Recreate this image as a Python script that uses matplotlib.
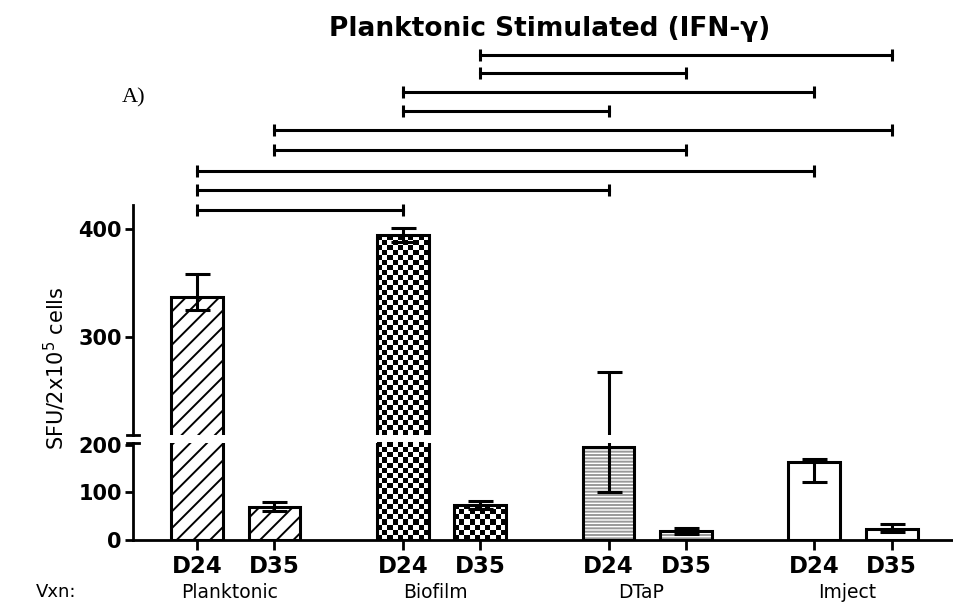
import numpy as np
import matplotlib
matplotlib.use("Agg")
from matplotlib import pyplot as plt
from matplotlib import transforms

# SFU per 2x10^5 cells, planktonic-stimulated IFN-gamma ELISpot
groups = ["Planktonic", "Biofilm", "DTaP", "Imject"]
days = ["D24", "D35"]
means = [337, 69, 394, 74, 196, 19, 164, 23]
err_top = [358, 80, 401, 82, 268, 25, 170, 34]
err_bottom = [325, 61, 388, 66, 101, 12, 122, 16]

# significance brackets: (bar a, bar b)
brackets = [(0, 2), (0, 4), (0, 6), (1, 5), (1, 7), (2, 4), (2, 6), (3, 5), (3, 7)]
bracket_y = [418, 436, 454, 473, 492, 509, 527, 544, 561]

plt.rcParams["hatch.linewidth"] = 1.4
plt.rcParams["font.family"] = "DejaVu Sans"

fig = plt.figure(figsize=(9.54, 6.04), dpi=100)
ax_lo = fig.add_axes([0.1394, 0.10596, 0.8606, 0.16126])
ax_hi = fig.add_axes([0.1394, 0.2793, 0.8606, 0.381])

pos = [g * 2.655 + d for g in range(len(groups)) for d in range(len(days))]
width = 0.67
xlim = (-0.826, 9.768)
lo_lim = (0, 205)
hi_lim = (209, 422)


def checker_fill(ax, bar, ylim, cell=5.0):
    # checkerboard fill, only over the part of the bar inside ylim
    x0 = bar.get_x()
    w = bar.get_width()
    y0 = max(bar.get_y(), ylim[0])
    y1 = min(bar.get_y() + bar.get_height(), ylim[1])
    if y1 <= y0:
        return
    p0 = ax.transData.transform((x0, y0))
    p1 = ax.transData.transform((x0 + w, y1))
    ncol = max(1, int(round((p1[0] - p0[0]) / cell)))
    nrow = max(1, int(round((p1[1] - p0[1]) / cell)))
    ii, jj = np.indices((nrow, ncol))
    board = (ii + jj) % 2
    im = ax.imshow(board, extent=(x0, x0 + w, y0, y1), cmap="gray",
                   interpolation="nearest", aspect="auto", zorder=2)
    im.set_clip_path(bar)


for ax, ylim in ((ax_lo, lo_lim), (ax_hi, hi_lim)):
    ax.set_xlim(*xlim)
    ax.set_ylim(*ylim)
    for i, (x, m) in enumerate(zip(pos, means)):
        g = i // 2
        if g == 0:
            ax.bar(x, m, width, color="white", edgecolor="black", hatch="//",
                   linewidth=0, zorder=1)
        elif g == 1:
            b = ax.bar(x, m, width, color="white", linewidth=0, zorder=1)[0]
            checker_fill(ax, b, ylim)
        elif g == 2:
            ax.bar(x, m, width, color="white", edgecolor="0.6", hatch="-----",
                   linewidth=0, zorder=1)
        else:
            ax.bar(x, m, width, color="white", linewidth=0, zorder=1)
        ax.bar(x, m, width, fill=False, edgecolor="black", linewidth=2.2, zorder=3)
    lower = [m - e for m, e in zip(means, err_bottom)]
    upper = [e - m for m, e in zip(means, err_top)]
    ax.errorbar(pos, means, yerr=[lower, upper], fmt="none", ecolor="black",
                elinewidth=2.2, capsize=9, capthick=2.2, zorder=4)
    ax.set_xlim(*xlim)
    ax.set_ylim(*ylim)
    ax.spines["right"].set_visible(False)
    ax.spines["top"].set_visible(False)
    ax.spines["left"].set_linewidth(2)
    ax.spines["bottom"].set_linewidth(2)
    ax.tick_params(axis="y", width=2, length=6, labelsize=15, pad=2)

ax_lo.set_yticks([0, 100, 200])
ax_lo.set_yticklabels(["0", "100", "200"], fontweight="bold")
ax_hi.set_yticks([300, 400])
ax_hi.set_yticklabels(["300", "400"], fontweight="bold")

ax_hi.spines["bottom"].set_visible(False)
ax_hi.set_xticks([])

ax_lo.set_xticks(pos)
ax_lo.set_xticklabels(days * len(groups), fontsize=16.5, fontweight="bold")
ax_lo.tick_params(axis="x", width=2, length=7, pad=4)

# break marks on the y axis
for ax, yy in ((ax_hi, 0.0), (ax_lo, 1.0)):
    ax.plot([-0.007, 0.007], [yy, yy], transform=ax.transAxes, color="black",
            linewidth=2, clip_on=False, zorder=5)

# significance brackets above the bars
for (a, b), y in zip(brackets, bracket_y):
    ax_hi.plot([pos[a], pos[b]], [y, y], color="black", linewidth=2.2,
               marker="|", markersize=9, markeredgewidth=2.2, clip_on=False)

fig.text(550 / 954, 1 - 29 / 604, "Planktonic Stimulated (IFN-γ)", ha="center",
         va="center", fontsize=19, fontweight="bold")
fig.text(122 / 954, 1 - 98 / 604, "A)", ha="left", va="center", fontsize=16,
         family="Liberation Serif")
fig.text(55 / 954, 1 - 368 / 604, "SFU/2x10$^5$ cells", rotation=90, ha="center",
         va="center", fontsize=15)
fig.text(36 / 954, 1 - 592 / 604, "Vxn:", ha="left", va="center", fontsize=13)

# vaccine group names under each pair of bars
name_tr = transforms.blended_transform_factory(ax_lo.transData, fig.transFigure)
for g, name in enumerate(groups):
    cx = (pos[2 * g] + pos[2 * g + 1]) / 2
    ax_lo.text(cx - 0.08, 1 - 593 / 604, name, transform=name_tr,
               ha="center", va="center", fontsize=13.5, clip_on=False)

fig.savefig("out.png", dpi=100)
